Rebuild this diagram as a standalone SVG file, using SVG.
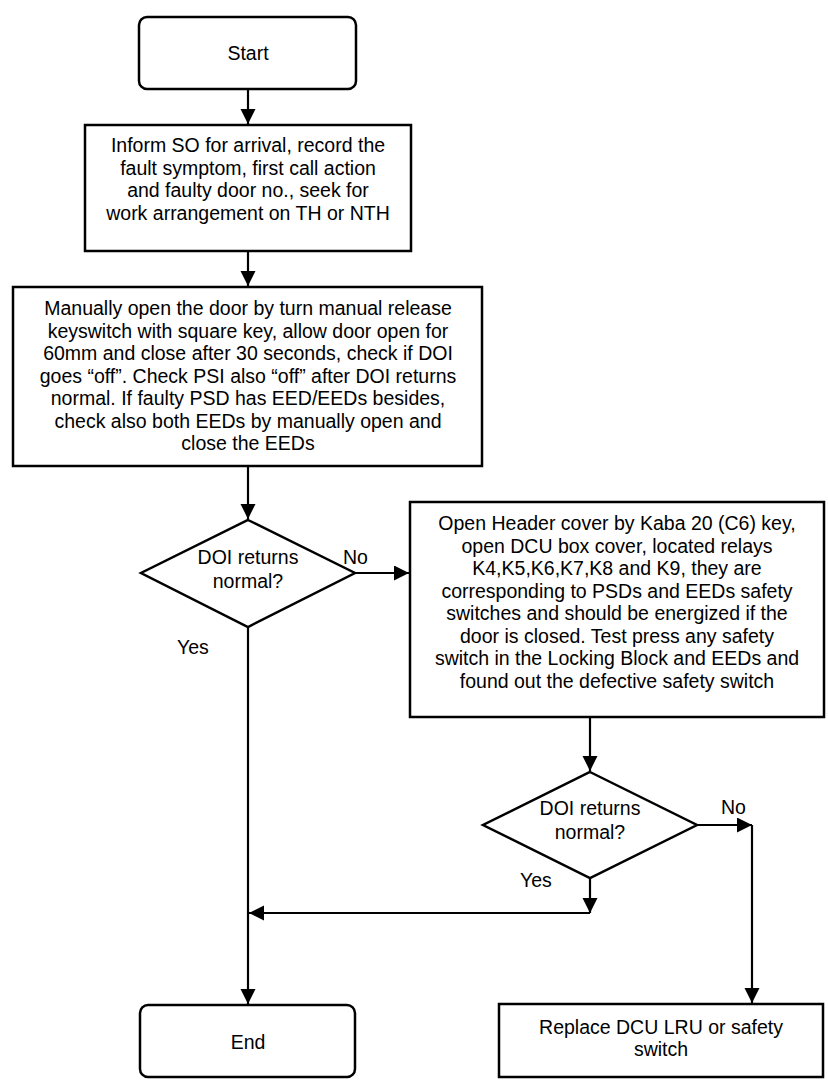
<svg xmlns="http://www.w3.org/2000/svg" width="828" height="1086" viewBox="0 0 828 1086">
<style>
.box{fill:#fff;stroke:#000;stroke-width:2.5}
.t{font-family:"Liberation Sans",Arial,sans-serif;font-size:19.5px;fill:#000;text-anchor:middle}
.l{font-family:"Liberation Sans",Arial,sans-serif;font-size:19.5px;fill:#000}
.c{fill:none;stroke:#000;stroke-width:2.2}
</style>
<defs>
<marker id="ah" markerUnits="userSpaceOnUse" markerWidth="16" markerHeight="16" refX="15" refY="7.5" orient="auto">
<path d="M0,0 L15,7.5 L0,15 Z" fill="#000"/>
</marker>
</defs>
<rect width="828" height="1086" fill="#fff"/>
<g id="connectors">
<line class="c" x1="248" y1="89" x2="248" y2="124" marker-end="url(#ah)"/>
<line class="c" x1="248" y1="251" x2="248" y2="286" marker-end="url(#ah)"/>
<line class="c" x1="248" y1="466" x2="248" y2="519" marker-end="url(#ah)"/>
<line class="c" x1="355" y1="573" x2="409" y2="573" marker-end="url(#ah)"/>
<line class="c" x1="248" y1="627" x2="248" y2="1004" marker-end="url(#ah)"/>
<line class="c" x1="590" y1="717" x2="590" y2="771" marker-end="url(#ah)"/>
<line class="c" x1="697" y1="825" x2="752" y2="825" marker-end="url(#ah)"/>
<line class="c" x1="752" y1="825" x2="752" y2="1003" marker-end="url(#ah)"/>
<line class="c" x1="590" y1="878" x2="590" y2="913" marker-end="url(#ah)"/>
<line class="c" x1="590" y1="913" x2="249" y2="913" marker-end="url(#ah)"/>
<text class="l" x="343" y="564">No</text>
<text class="l" x="177" y="654">Yes</text>
<text class="l" x="721" y="814">No</text>
<text class="l" x="520" y="887">Yes</text>
</g>
<g id="start">
<rect class="box" x="139" y="17" width="217" height="72" rx="8"/>
<text class="t" x="248" y="60">Start</text>
</g>
<g id="inform">
<rect class="box" x="85" y="125" width="326" height="126"/>
<text class="t" x="248" y="152">Inform SO for arrival, record the</text>
<text class="t" x="248" y="174.5">fault symptom, first call action</text>
<text class="t" x="248" y="197">and faulty door no., seek for</text>
<text class="t" x="248" y="219.5">work arrangement on TH or NTH</text>
</g>
<g id="manual">
<rect class="box" x="13" y="287" width="469" height="179"/>
<text class="t" x="248" y="315">Manually open the door by turn manual release</text>
<text class="t" x="248" y="337.5">keyswitch with square key, allow door open for</text>
<text class="t" x="248" y="360">60mm and close after 30 seconds, check if DOI</text>
<text class="t" x="248" y="382.5">goes “off”. Check PSI also “off” after DOI returns</text>
<text class="t" x="248" y="405">normal. If faulty PSD has EED/EEDs besides,</text>
<text class="t" x="248" y="427.5">check also both EEDs by manually open and</text>
<text class="t" x="248" y="450">close the EEDs</text>
</g>
<g id="decision1">
<polygon class="box" points="248,520 355,573 248,627 141,573"/>
<text class="t" x="248" y="564">DOI returns</text>
<text class="t" x="248" y="588">normal?</text>
</g>
<g id="header">
<rect class="box" x="410" y="502" width="414" height="215"/>
<text class="t" x="617" y="530">Open Header cover by Kaba 20 (C6) key,</text>
<text class="t" x="617" y="552.5">open DCU box cover, located relays</text>
<text class="t" x="617" y="575">K4,K5,K6,K7,K8 and K9, they are</text>
<text class="t" x="617" y="597.5">corresponding to PSDs and EEDs safety</text>
<text class="t" x="617" y="620">switches and should be energized if the</text>
<text class="t" x="617" y="642.5">door is closed. Test press any safety</text>
<text class="t" x="617" y="665">switch in the Locking Block and EEDs and</text>
<text class="t" x="617" y="687.5">found out the defective safety switch</text>
</g>
<g id="decision2">
<polygon class="box" points="590,772 697,825 590,878 483,825"/>
<text class="t" x="590" y="815">DOI returns</text>
<text class="t" x="590" y="839">normal?</text>
</g>
<g id="end">
<rect class="box" x="140" y="1005" width="215" height="72" rx="8"/>
<text class="t" x="248" y="1049">End</text>
</g>
<g id="replace">
<rect class="box" x="499" y="1004" width="324" height="73"/>
<text class="t" x="661" y="1034">Replace DCU LRU or safety</text>
<text class="t" x="661" y="1056">switch</text>
</g>
</svg>
